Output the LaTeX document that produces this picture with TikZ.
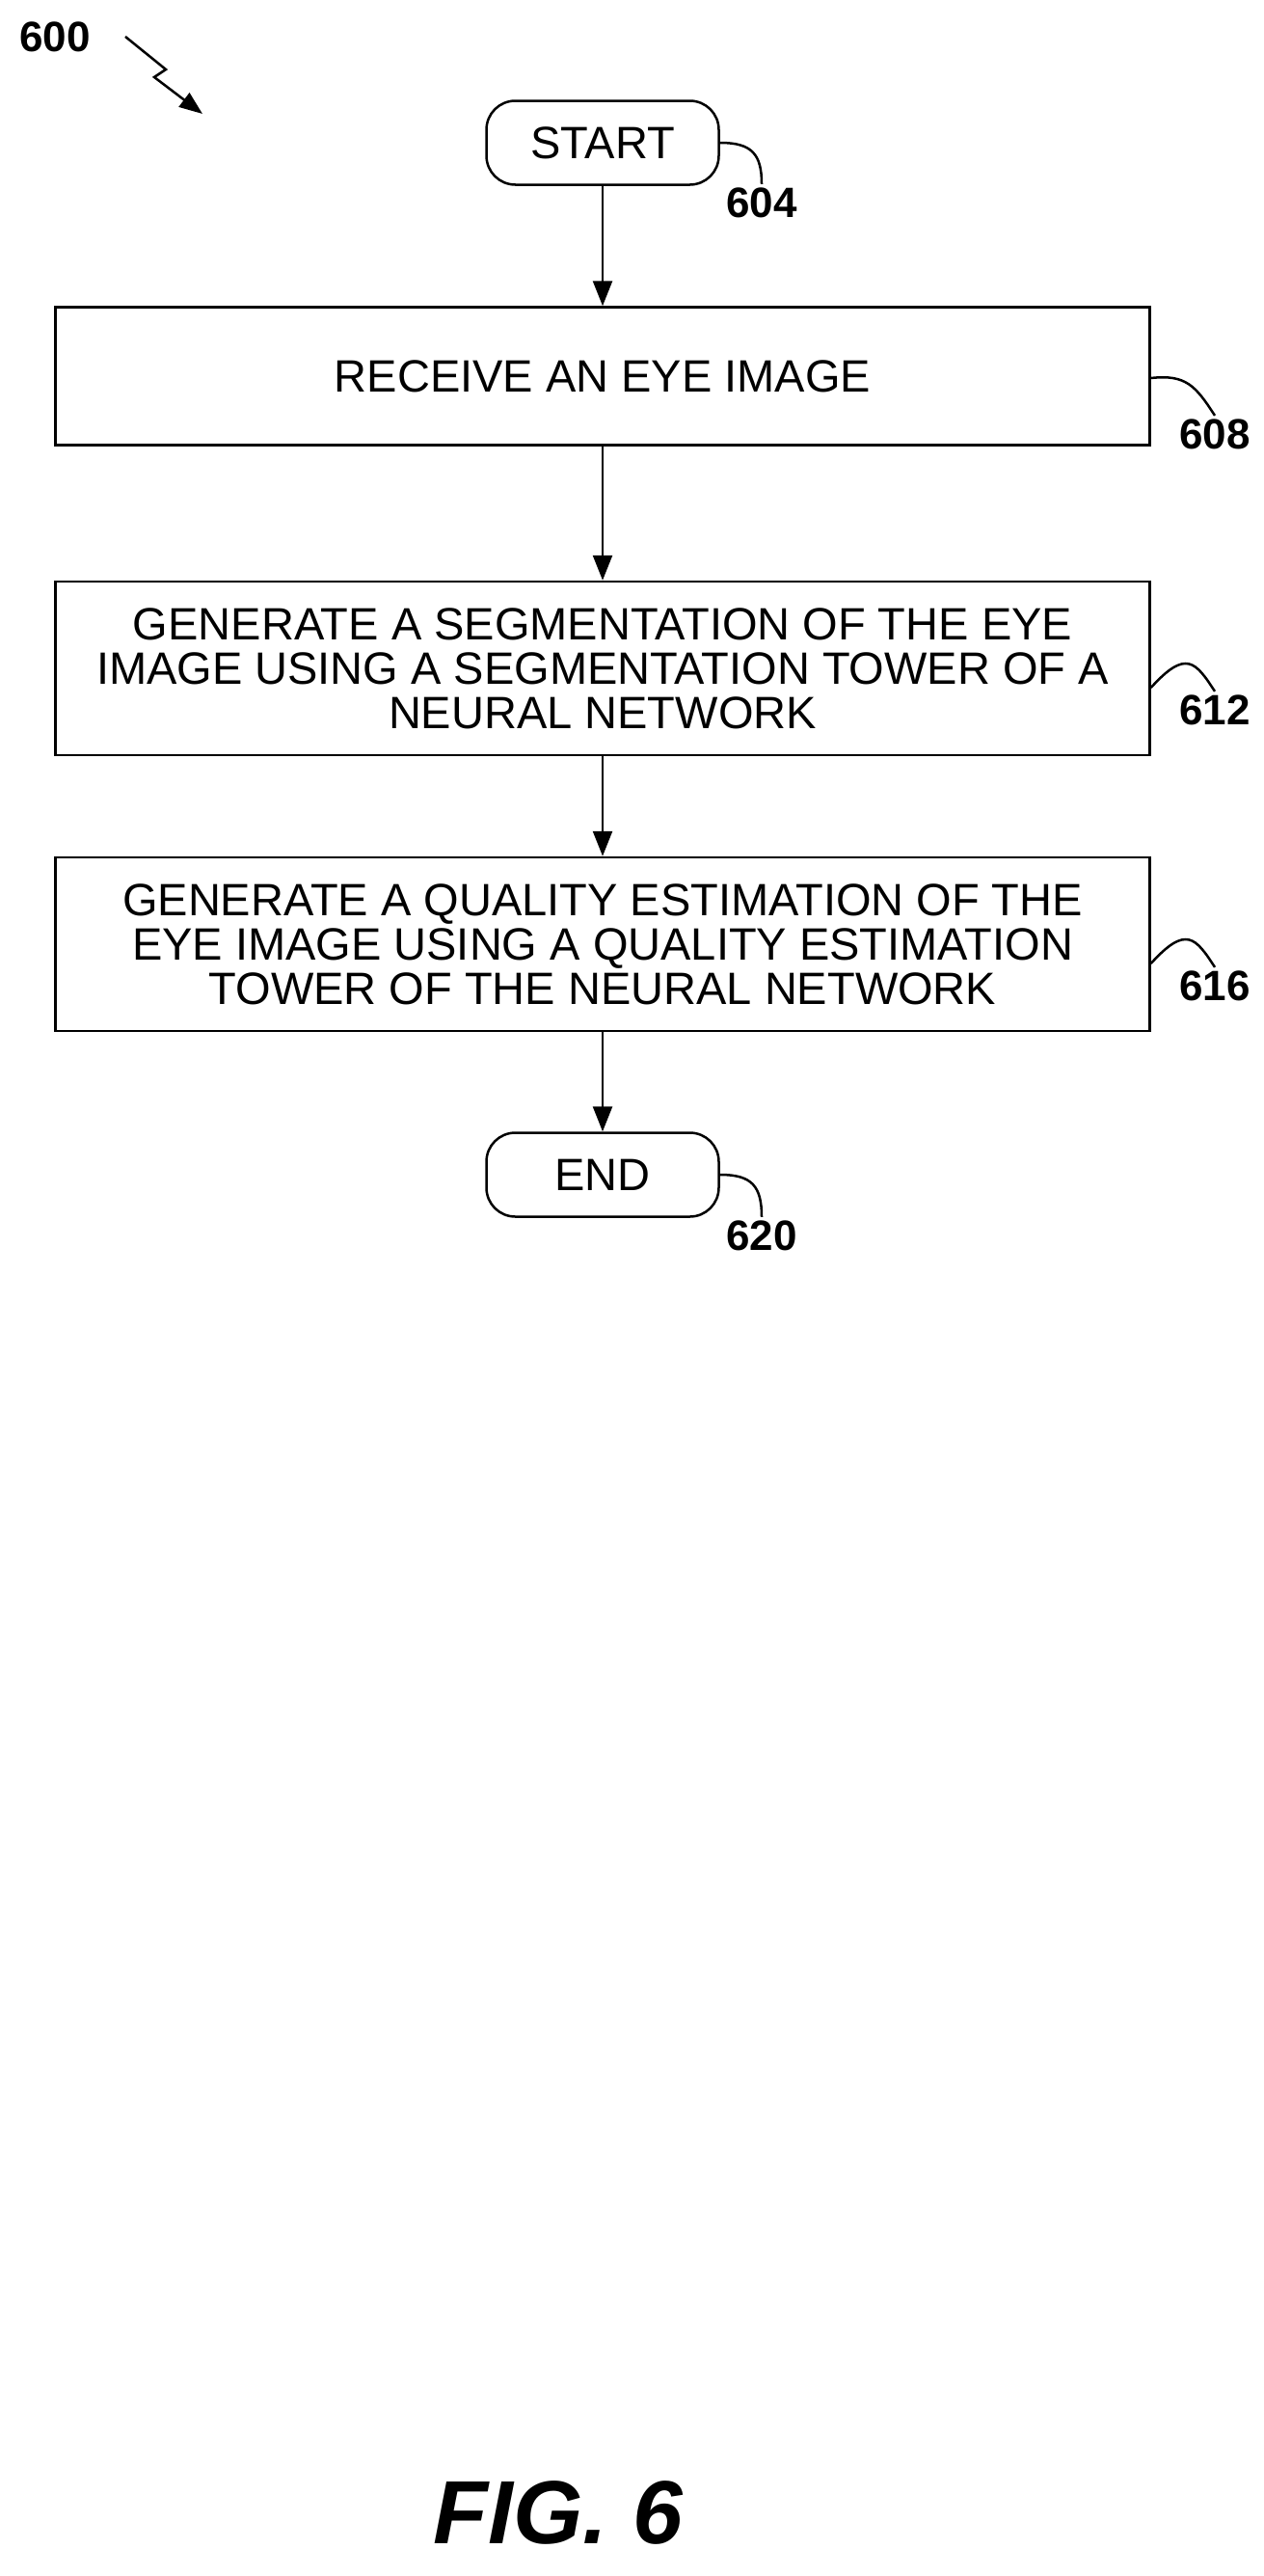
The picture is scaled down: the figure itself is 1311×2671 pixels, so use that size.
\documentclass[tikz,border=0pt]{standalone}
\usepackage{fontspec}
\setmainfont{Liberation Sans}
\usetikzlibrary{arrows.meta}

\tikzset{
  box/.style={draw,line width=2.5pt,minimum width=1135pt,align=center,font=\fontsize{47}{46}\selectfont},
  term/.style={draw,line width=2.5pt,rounded corners=30pt,minimum width=241pt,minimum height=87pt,font=\fontsize{47}{46}\selectfont},
  ref/.style={font=\fontsize{44}{46}\selectfont\bfseries},
  flow/.style={line width=2.5pt,-{Triangle[length=26pt,width=20pt]}},
  lead/.style={line width=2.5pt}
}

\begin{document}
\begin{tikzpicture}[x=1pt,y=-1pt]
    \useasboundingbox (0,0) rectangle (1311,2671);

    \node[term] (START) at (625,148) {START};
    \node[box,minimum height=143pt] (RECV) at (625,390) {RECEIVE AN EYE IMAGE};
    \node[box,minimum height=180pt] (SEG) at (625,693) {GENERATE A SEGMENTATION OF THE EYE\\IMAGE USING A SEGMENTATION TOWER OF A\\NEURAL NETWORK};
    \node[box,minimum height=180pt] (QUAL) at (625,979) {GENERATE A QUALITY ESTIMATION OF THE\\EYE IMAGE USING A QUALITY ESTIMATION\\TOWER OF THE NEURAL NETWORK};
    \node[term] (END) at (625,1218) {END};

    \draw[flow] (START) -- (RECV);
    \draw[flow] (RECV) -- (SEG);
    \draw[flow] (SEG) -- (QUAL);
    \draw[flow] (QUAL) -- (END);

    % reference numerals
    \node[ref] (N600) at (57,38) {600};
    \node[ref] (N604) at (790,210) {604};
    \node[ref] (N608) at (1260,450) {608};
    \node[ref] (N612) at (1260,736) {612};
    \node[ref] (N616) at (1260,1022) {616};
    \node[ref] (N620) at (790,1281) {620};

    \draw[lead] (START.east) .. controls (780,148) and (790,160) .. (N604.north);
    \draw[lead] ([yshift=-2pt]RECV.east) .. controls (1230,388) and (1240,400) .. (N608.north);
    \draw[lead] ([yshift=-20pt]SEG.east) .. controls (1230,673) and (1240,686) .. (N612.north);
    \draw[lead] ([yshift=-20pt]QUAL.east) .. controls (1230,959) and (1240,972) .. (N616.north);
    \draw[lead] (END.east) .. controls (780,1218) and (790,1230) .. (N620.north);

    % zigzag pointer
    \coordinate (Z1) at (130,38);
    \coordinate (Z2) at (210,118);
    \draw[line width=2.5pt,-{Triangle[length=24pt,width=18pt]}] (Z1) -- (172,72) -- (160,80) -- (Z2);

    \node[font=\fontsize{93}{96}\selectfont\bfseries\itshape] (FIG) at (579,2605) {FIG. 6};
\end{tikzpicture}
\end{document}
